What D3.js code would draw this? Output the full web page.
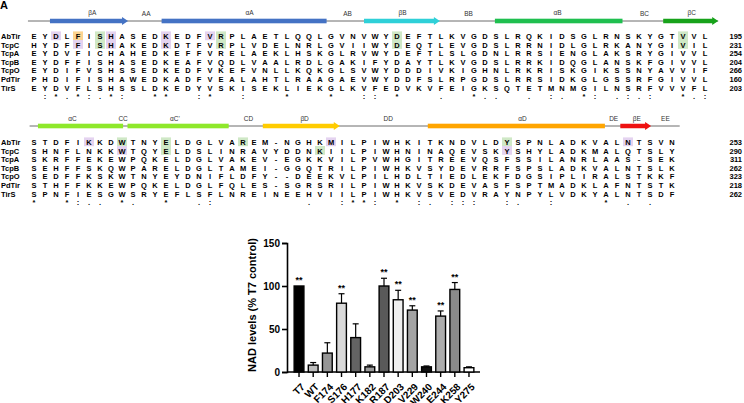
<!DOCTYPE html>
<html><head><meta charset="utf-8">
<script src="https://cdn.jsdelivr.net/npm/d3@7"></script>
<style>body{margin:0;background:#fff}svg{display:block}</style>
</head><body><svg id="c" width="744" height="403"></svg>
<script>
// ---------- alignment data ----------
const seqNames = ["AbTir","TcpC","TcpA","TcpB","TcpO","PdTir","TirS"];
const block1Seqs = [
  "EYDLFISHASEDKEDFVRPLAETLQQLGVNVWYDEFTLKVGDSLRQKIDSGLRNSKYGTVVL",
  "HYDFFISHAKEDKDTFVRPLVDELNRLGVIIWYDEQTLEVGDSLRRNIDLGLRKANYGIVIL",
  "EYDVFICHAHEDKEFFVRELAEKLHSKGLRVWYDEFTLSLGDNLRRSIENGLAKSRYGIVVL",
  "EYDFFISHASEDKEAFVQDLVAALRDLGAKIFYDAYTLKVGDSLRRKIDQGLANSKFGIVVL",
  "EYDIFVSHSSEDKEDFVKEFVNLLKQKGLSVWYDDDIVKIGHNLRKRISKGIKSSNYAVVIF",
  "PHDIFISHAWEDKADFVEALAHTLRAAGAEVWYDDFSLRPGDSLRRSIDKGLGSSRFGIVVL",
  "EYDVFLSHSSLDKEDYVSKISEKLIEKGLKVFEDVKVFEIGKSQTETMNMGILNSRFVVVFL"
];
const block1Ends = [195,231,254,204,266,160,203];
const block2Seqs = [
  "STDFIKKDWTNYELDGLVAREM-NGHKMILPIWHKITKNDVLDYSPNLADKVALNTSVN",
  "SHNFLNKKWTQYELDSLINRAVYDDNKIILPIWHNINAQEVSKYSHYLADKMALQTSLY",
  "SKRFFEKEWPQKELDGLVAKEV-EGKKVILPVWHGITREEVQSFSSILANRLAAS-SEK",
  "SEHFFSKQWPARELDGLTAMEI-GGQTRILPIWHKVSYDEVRRFSPSLADKVALNTSLK",
  "SEDFFKSKWTNYEYDNIFLDFY--DEEKVLPILHDLTIEDLEKFDGSIPLIRALSTKKF",
  "STHFFKKEWPQKELDGLFQLES-SGRSRILPIWHKVSKDEVASFSPTMADKLAFNTSTK",
  "SPNFIESGWSRYEFLSFLNREINEEHVIILPIWHKVSVEDVRAYNPYLVDKYALNTSDF"
];
const block2Ends = [253,290,311,262,323,218,262];
// highlighted residues: [row, column, kind]
const block1Marks = [[0,2,"p"],[0,4,"o"],[0,6,"g"],[0,7,"p"],[0,12,"p"],[0,16,"p"],[0,17,"g"],[0,33,"g"],[0,59,"g"],
                     [1,4,"p"],[1,6,"g"],[1,7,"p"],[1,12,"p"],[1,17,"g"],[1,33,"g"],[1,59,"g"]];
const block2Marks = [[0,5,"p"],[0,8,"g"],[0,12,"g"],[0,19,"g"],[0,27,"p"],[0,43,"g"],[0,54,"p"],
                     [1,8,"p"],[1,12,"g"],[1,26,"g"],[1,43,"p"]];
// secondary structure (column units): [type, start, end, colour key, label, labelPos]
const ss1Line = [-0.55, 62.2];
const ss1 = [["arrow",1.45,8.55,"blueA","βA",5.3],["bar",11.6,26.6,"blueA","αA",19.6],
             ["arrow",30,36.9,"cyan","βB",33.5],["bar",41.9,53.5,"greenB","αB",47.6],
             ["arrow",57.2,62.2,"greenC","βC",59.8]];
const ss1Loops = [["AA",10.2],["AB",28.5],["BB",39.5],["BC",55.5]];
const ss2Line = [-0.4, 58.7];
const ss2 = [["bar",0.36,8.1,"lime","αC",3.5],["bar",8.5,17.7,"lime","αC'",12.8],
             ["arrow",20.8,27.8,"yellow","βD",24.6],["bar",35.8,51.9,"orange","αD",44.4],
             ["arrow",53.3,56.1,"red","βE",54.8]];
const ss2Loops = [["CC",8.1],["CD",19.5],["DD",32.2],["DE",52.7],["EE",57.4]];

// ---------- bar chart data ----------
const barCats = ["T7","WT","F174","S176","H177","K182","R187","D203","V229","W240","E244","K258","Y275"];
const barVals = [100,8,22,80,40,6,100,84,72,6,65,96,5];
const barErr  = [0,3,12,11,16,2,9,11,5,1,6,8,1];
const barSig  = [1,0,0,1,0,0,1,1,1,0,1,1,0];
const barShade = ["#000000","#bdbdbd","#969696","#d9d9d9","#636363","#9a9a9a","#595959","#efefef","#a3a3a3","#111111","#adadad","#8a8a8a","#ffffff"];
const yTicks = [0,50,100,150];

const colors = {p:"#e4d3f0", g:"#cfe8c6", o:"#fcd490",
  blueA:"#4472c4", cyan:"#2fd0d8", greenB:"#1fbf4f", greenC:"#17a21a",
  lime:"#8ee82a", yellow:"#ffcc00", orange:"#ffa500", red:"#ee1111"};

const svg = d3.select("#c");
const FONT = "'Liberation Sans', Arial, sans-serif";

// panel letter
svg.append("text").attr("x",0).attr("y",9).attr("font-family",FONT).attr("font-weight","bold")
  .attr("font-size",11).text("A");

// conservation
const strong = ["STA","NEQK","NHQK","NDEQ","QHRK","MILV","MILF","HY","FYW"];
const weak = ["CSA","ATV","SAG","STNK","STPA","SGND","SNDEQK","NDEQHK","NEQHRK","FVLIM","HFY"];
function consMark(col){
  if (col.includes("-")) return "";
  if (col.every(c => c === col[0])) return "*";
  if (strong.some(g => col.every(c => g.includes(c)))) return ":";
  if (weak.some(g => col.every(c => g.includes(c)))) return ".";
  return "";
}

function drawBlock(seqs, ends, marks, ssLine, ss, loops, y0, lineY, labelY, loopY){
  const n = seqs[0].length;
  const x = d3.scaleLinear().domain([0, n-1]).range([34, 34 + 11*(n-1)]);
  const y = d3.scaleLinear().domain([0, 1]).range([y0, y0 + 8.6]);
  const g = svg.append("g");
  g.append("line").attr("x1",x(ssLine[0])).attr("x2",x(ssLine[1])).attr("y1",lineY).attr("y2",lineY)
    .attr("stroke","#6d6d6d").attr("stroke-width",1);
  ss.forEach(([type,s,e,ck,lab,lp]) => {
    const x0 = x(s), x1 = x(e);
    if (type === "bar") {
      g.append("rect").attr("x",x0).attr("y",lineY-2.3).attr("width",x1-x0).attr("height",4.6).attr("fill",colors[ck]);
    } else {
      const h = 2.2, ah = 4, al = 6;
      g.append("path").attr("d",`M${x0},${lineY-h}L${x1-al},${lineY-h}L${x1-al},${lineY-ah}L${x1},${lineY}L${x1-al},${lineY+ah}L${x1-al},${lineY+h}L${x0},${lineY+h}Z`)
        .attr("fill",colors[ck]);
    }
    g.append("text").attr("x",x(lp)).attr("y",labelY).attr("text-anchor","middle")
      .attr("font-family",FONT).attr("font-size",6.5).attr("fill","#333").text(lab);
  });
  loops.forEach(([lab,lp]) => {
    g.append("text").attr("x",x(lp)).attr("y",loopY).attr("text-anchor","middle")
      .attr("font-family",FONT).attr("font-size",6.5).attr("fill","#333").text(lab);
  });
  marks.forEach(([r,c,k]) => {
    g.append("rect").attr("x",x(c)-5).attr("y",y(r)-4.6).attr("width",10).attr("height",8.8).attr("fill",colors[k]);
  });
  seqs.forEach((s,r) => {
    g.append("text").attr("x",1).attr("y",y(r)+3).attr("font-family",FONT).attr("font-weight","bold")
      .attr("font-size",7.5).text(seqNames[r]);
    g.selectAll(null).data(s.split("")).enter().append("text")
      .attr("x",(d,i)=>x(i)).attr("y",y(r)+3).attr("text-anchor","middle")
      .attr("font-family",FONT).attr("font-weight","bold").attr("font-size",7.5).text(d=>d);
    g.append("text").attr("x",742).attr("y",y(r)+3).attr("text-anchor","end").attr("font-family",FONT)
      .attr("font-weight","bold").attr("font-size",7.5).text(ends[r]);
  });
  const cons = d3.range(n).map(i => consMark(seqs.map(s => s[i])));
  g.selectAll(null).data(cons).enter().append("text")
    .attr("x",(d,i)=>x(i)).attr("y",y(7)+3).attr("text-anchor","middle")
    .attr("font-family",FONT).attr("font-weight","bold").attr("font-size",7.5).text(d=>d);
}

drawBlock(block1Seqs, block1Ends, block1Marks, ss1Line, ss1, ss1Loops, 36, 21, 15, 16);
drawBlock(block2Seqs, block2Ends, block2Marks, ss2Line, ss2, ss2Loops, 142, 126, 121, 121);

// ---------- bar chart ----------
const xb = d3.scaleBand().domain(barCats).range([289.75, 478.25]).padding(0.31);
const yb = d3.scaleLinear().domain([0,150]).range([372, 243]);
const cg = svg.append("g");

const yAxis = cg.append("g").attr("transform","translate(287,0)")
  .call(d3.axisLeft(yb).tickValues(yTicks).tickSize(5).tickPadding(2));
yAxis.select(".domain").attr("stroke-width",1.6);
yAxis.selectAll(".tick line").attr("stroke-width",1.6);
yAxis.selectAll("text").attr("font-family",FONT).attr("font-weight","bold").attr("font-size",10);

const xAxis = cg.append("g").attr("transform","translate(0,372)")
  .call(d3.axisBottom(xb).tickSize(5).tickSizeOuter(0));
xAxis.select(".domain").attr("stroke-width",1.6).attr("d","M287,0H480");
xAxis.selectAll(".tick line").attr("stroke-width",1.4);
xAxis.selectAll("text").attr("font-family",FONT).attr("font-weight","bold").attr("font-size",10)
  .attr("y",9).attr("dy","0.35em").attr("text-anchor","end").attr("transform","translate(4,4) rotate(-45 0 9)");

barCats.forEach((c,i) => {
  if (barErr[i] <= 0) return;
  const cx = xb(c) + xb.bandwidth()/2;
  cg.append("line").attr("x1",cx).attr("x2",cx).attr("y1",yb(barVals[i])).attr("y2",yb(barVals[i]+barErr[i]))
    .attr("stroke","#000").attr("stroke-width",1.2);
  cg.append("line").attr("x1",cx-3).attr("x2",cx+3).attr("y1",yb(barVals[i]+barErr[i])).attr("y2",yb(barVals[i]+barErr[i]))
    .attr("stroke","#000").attr("stroke-width",1.2);
});
cg.selectAll("rect.bar").data(barCats).enter().append("rect").attr("class","bar")
  .attr("x",d=>xb(d)).attr("width",xb.bandwidth())
  .attr("y",(d,i)=>yb(barVals[i])).attr("height",(d,i)=>372-yb(barVals[i]))
  .attr("fill",(d,i)=>barShade[i]).attr("stroke","#000").attr("stroke-width",1.4);
cg.selectAll("text.sig").data(barCats).enter().append("text").attr("class","sig")
  .filter((d,i)=>barSig[i])
  .attr("x",d=>xb(d)+xb.bandwidth()/2)
  .attr("y",d=>{const i=barCats.indexOf(d); return yb(barVals[i]+barErr[i])-3;})
  .attr("text-anchor","middle").attr("font-family",FONT).attr("font-weight","bold").attr("font-size",9).text("**");

cg.append("text").attr("transform","translate(256,305) rotate(-90)").attr("text-anchor","middle")
  .attr("font-family",FONT).attr("font-weight","bold").attr("font-size",11).text("NAD levels (% T7 control)");
</script></body></html>
